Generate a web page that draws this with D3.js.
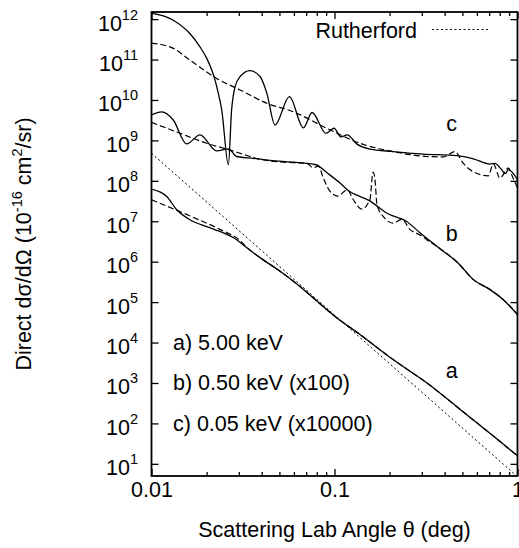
<!DOCTYPE html>
<html><head><meta charset="utf-8">
<script src="https://cdn.jsdelivr.net/npm/d3@7"></script>
<style>
body{margin:0;background:#fff}
svg{display:block}
text{font-family:"Liberation Sans",Arial,Helvetica,sans-serif;fill:#000}
</style>
</head><body>
<svg id="chart" width="519" height="548"></svg>
<script>
// ---------- data ----------
const xTickMajor = [0.01, 0.1, 1];
const xTickLabels = ["0.01", "0.1", "1"];
const xTickMinor = [0.02,0.03,0.04,0.05,0.06,0.07,0.08,0.09,0.2,0.3,0.4,0.5,0.6,0.7,0.8,0.9];
const yTickValues = [1e1,1e2,1e3,1e4,1e5,1e6,1e7,1e8,1e9,1e10,1e11,1e12];

// curve a : 5.00 keV
const aSolid = [[0.01,6.2e7],[0.01211,4.1e7],[0.01374,1.92e7],[0.0162,1.09e7],[0.02,7.4e6],[0.02366,5.6e6],
  [0.0292,3.5e6],[0.0332,2.2e6],[0.0392,1.26e6],[0.0504,5.8e5],[0.0596,3.3e5],[0.1028,4.1e4],[0.1377,1.58e4],
  [0.209,3.8e3],[0.319,1.01e3],[0.486,222],[0.738,48.5],[1,15.8]];
const aDashed = [[0.01,3.4e7],[0.01374,1.87e7],[0.0184,1.06e7],[0.02366,6.3e6],[0.0305,3.3e6],[0.0332,2.25e6],
  [0.0392,1.26e6],[0.0504,5.8e5],[0.0596,3.3e5],[0.1028,4.1e4],[0.1377,1.58e4],[0.209,3.8e3],[0.319,1.01e3],
  [0.486,222],[0.738,48.5],[1,15.8]];
const rutherford = [[0.01,4.8e8],[0.1,4.8e4],[1,4.8]];

// curve b : 0.50 keV (x100)
const bSolid = [[0.01,4.3e9],[0.01137,5.1e9],[0.01315,3.2e9],[0.01556,8.2e8],[0.0184,1.37e9],[0.0227,5.5e8],
  [0.0263,6.2e8],[0.0292,4.0e8],[0.036,3.6e8],[0.0444,3.2e8],[0.0596,2.9e8],[0.0792,2.5e8],[0.091,1.58e8],
  [0.1072,8.8e7],[0.1175,6.0e7],[0.156,3.2e7],[0.196,1.53e7],[0.248,9.9e6],[0.293,5.2e6],[0.377,2.1e6],
  [0.473,9.3e5],[0.574,3.6e5],[0.708,2.04e5],[0.836,1.15e5],[0.91,7.9e4],[1,4.9e4]];
const bDashed = [[0.01,2.8e9],[0.01432,1.5e9],[0.02,8.5e8],[0.0258,6.1e8],[0.0305,4.8e8],[0.0392,3.4e8],
  [0.0596,2.8e8],[0.0705,2.7e8],[0.0766,2.1e8],[0.0816,2.3e8],[0.0869,1.17e8],[0.0945,5.5e7],[0.1044,4.2e7],
  [0.1175,6.0e7],[0.1268,3.4e7],[0.1409,2.0e7],[0.156,3.4e7],[0.1625,1.64e8],[0.1665,1.06e8],[0.1706,2.6e7],
  [0.185,1.3e7],[0.209,9.0e6],[0.233,1.12e7],[0.259,6.2e6],[0.293,4.6e6],[0.319,3.5e6],[0.377,2.1e6],
  [0.473,9.3e5],[0.574,3.6e5],[0.708,2.04e5],[0.836,1.15e5],[0.91,7.9e4],[1,4.9e4]];

// curve c : 0.05 keV (x10000)
const cSolid = [[0.01,1.4e12],[0.01315,9.4e11],[0.0162,4.4e11],[0.0184,2.07e11],[0.02004,1.07e11],[0.02134,5.5e10],
  [0.02225,3.1e10],[0.02318,1.46e10],[0.0242,5.7e9],[0.0263,2.5e8],[0.0274,5.7e9],[0.0286,2.1e10],[0.0305,3.8e10],
  [0.0345,5.3e10],[0.0392,3.8e10],[0.0427,1.46e10],[0.0473,2.4e9],[0.0567,1.21e10],[0.0676,2.04e9],[0.0754,4.9e9],
  [0.0899,1.5e9],[0.0994,2.0e9],[0.1086,1.22e9],[0.1175,1.37e9],[0.1322,8.2e8],[0.156,6.1e8],[0.209,5.3e8],
  [0.305,4.6e8],[0.466,4.2e8],[0.574,3.5e8],[0.708,2.6e8],[0.754,2.7e8],[0.81,2.0e8],[0.86,1.5e8],[0.89,1.9e8],[1,1.07e8]];
const cDashed = [[0.01,2.55e11],[0.01315,1.89e11],[0.0162,9.7e10],[0.0227,3.4e10],[0.0305,1.77e10],[0.0427,8.3e9],
  [0.0596,5.1e9],[0.0906,2.0e9],[0.1377,8.5e8],[0.209,5.3e8],[0.319,4.0e8],[0.394,3.9e8],[0.455,5.3e8],
  [0.506,2.7e8],[0.574,1.67e8],[0.692,1.33e8],[0.738,2.6e8],[0.802,1.17e8],[0.891,2.06e8],[0.945,1.18e8],[1,6.7e7]];

const curveLetters = ["c", "b", "a"];
const curveLetterAt = [[0.437,1.7e9],[0.437,3.2e6],[0.437,1.3e3]];
const energyLabels = ["a) 5.00 keV", "b) 0.50 keV (x100)", "c) 0.05 keV (x10000)"];
const energyLabelAt = [1e4, 1e3, 1e2];
const legendLabel = "Rutherford";

// ---------- chart ----------
const L = 151.5, R = 517.5, T = 12, B = 476;
const FS = 21.5;
const svg = d3.select("#chart");
const x = d3.scaleLog().domain([0.01, 1]).range([L, R]);
const y = d3.scaleLog().domain([5, 1.5e12]).range([B, T]);

svg.append("defs").append("clipPath").attr("id","plotclip")
  .append("rect").attr("x",L).attr("y",T).attr("width",R-L).attr("height",B-T);

const line = d3.line().x(d => x(d[0])).y(d => y(d[1])).curve(d3.curveMonotoneX);
const plot = svg.append("g").attr("clip-path","url(#plotclip)");
const styles = [
  [rutherford, "2,2.5", 1.0],
  [aDashed, "6,3", 1.2], [bDashed, "6,3", 1.2], [cDashed, "6,3", 1.2],
  [aSolid, null, 1.3], [bSolid, null, 1.3], [cSolid, null, 1.3]
];
styles.forEach(([data, dash, w]) => {
  plot.append("path").datum(data).attr("d", line)
    .attr("fill","none").attr("stroke","#000").attr("stroke-width", w)
    .attr("stroke-dasharray", dash);
});

function styleAxis(g){
  g.select(".domain").remove();
  g.attr("font-family", null).attr("font-size", null);
  g.selectAll(".tick line").attr("stroke-width", 1.3);
}

// bottom axis
svg.append("g").attr("transform",`translate(0,${B})`)
  .call(d3.axisBottom(x).tickValues(xTickMajor).tickFormat((d,i)=>xTickLabels[i]).tickSizeInner(-7).tickSizeOuter(0).tickPadding(6))
  .call(styleAxis).selectAll("text").attr("font-size", FS);
svg.append("g").attr("transform",`translate(0,${B})`)
  .call(d3.axisBottom(x).tickValues(xTickMinor).tickFormat("").tickSizeInner(-4).tickSizeOuter(0))
  .call(styleAxis);
// top axis
svg.append("g").attr("transform",`translate(0,${T})`)
  .call(d3.axisTop(x).tickValues(xTickMajor).tickFormat("").tickSizeInner(-7).tickSizeOuter(0))
  .call(styleAxis);
svg.append("g").attr("transform",`translate(0,${T})`)
  .call(d3.axisTop(x).tickValues(xTickMinor).tickFormat("").tickSizeInner(-4).tickSizeOuter(0))
  .call(styleAxis);
// left axis
const yl = svg.append("g").attr("transform",`translate(${L},0)`)
  .call(d3.axisLeft(y).tickValues(yTickValues).tickSizeInner(-7).tickSizeOuter(0).tickPadding(13.5))
  .call(styleAxis);
yl.selectAll(".tick text").each(function(d){
  const e = Math.round(Math.log10(d));
  const t = d3.select(this).text(null).attr("dy", 11).attr("font-size", FS);
  t.append("tspan").text("10");
  t.append("tspan").attr("dy", -11).attr("font-size", 14.5).text(e);
});
// right axis
svg.append("g").attr("transform",`translate(${R},0)`)
  .call(d3.axisRight(y).tickValues(yTickValues).tickFormat("").tickSizeInner(-7).tickSizeOuter(0))
  .call(styleAxis);

// frame
svg.append("rect").attr("x",L).attr("y",T).attr("width",R-L).attr("height",B-T)
  .attr("fill","none").attr("stroke","#000").attr("stroke-width",1.8);

// axis titles
svg.append("text").attr("x",(L+R)/2).attr("y",537).attr("text-anchor","middle").attr("font-size",FS)
  .text("Scattering Lab Angle \u03B8 (deg)");
const yt = svg.append("text").attr("transform","translate(31,244) rotate(-90)")
  .attr("text-anchor","middle").attr("font-size",FS);
yt.append("tspan").text("Direct d\u03C3/d\u03A9 (10");
yt.append("tspan").attr("dy",-9).attr("font-size",14.5).text("-16");
yt.append("tspan").attr("dy",9).text(" cm");
yt.append("tspan").attr("dy",-9).attr("font-size",14.5).text("2");
yt.append("tspan").attr("dy",9).text("/sr)");

// curve letters
curveLetters.forEach((s,i)=>{
  svg.append("text").attr("x",x(curveLetterAt[i][0])).attr("y",y(curveLetterAt[i][1]))
    .attr("text-anchor","middle").attr("font-size",FS).text(s);
});
// energy labels
energyLabels.forEach((s,i)=>{
  svg.append("text").attr("x",173).attr("y",y(energyLabelAt[i]) + 7.5)
    .attr("font-size",FS).text(s);
});
// legend
svg.append("text").attr("x",417).attr("y",37.5).attr("text-anchor","end").attr("font-size",FS).text(legendLabel);
svg.append("line").attr("x1",432).attr("x2",490).attr("y1",29.5).attr("y2",29.5)
  .attr("stroke","#000").attr("stroke-width",1).attr("stroke-dasharray","2,2.5");
</script>
</body></html>
